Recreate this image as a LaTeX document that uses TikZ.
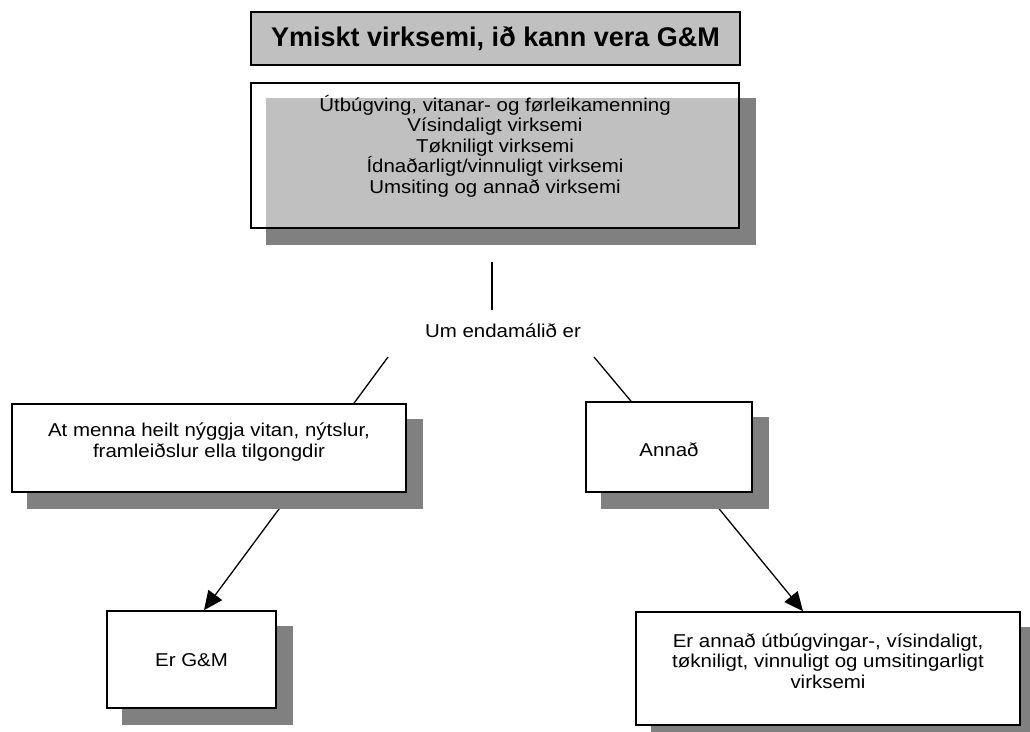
\documentclass[tikz,border=0pt]{standalone}
\usepackage{fontspec}
\setmainfont[FakeStretch=1.1]{Liberation Sans}
\newfontfamily\titlefont{Liberation Sans}
\usetikzlibrary{arrows.meta}
\definecolor{lightgr}{HTML}{C0C0C0}
\definecolor{shadowgr}{HTML}{808080}
\pgfdeclarelayer{bg}
\pgfsetlayers{bg,main}
\begin{document}
\begin{tikzpicture}[x=1pt,y=-1pt,
  box/.style={draw=black, line width=1.6pt, fill=white, inner sep=0pt},
  shade/.style={fill=shadowgr, draw=none},
  conn/.style={line width=1.3pt},
  arr/.style={conn, -{Triangle[length=19pt,width=17pt]}},
  txt/.style={font=\fontsize{18.6}{20.5}\selectfont, align=center, inner sep=0pt},
]
\useasboundingbox (0,0) rectangle (1030,731);

% title
\node[box, fill=lightgr, minimum width=489pt, minimum height=53pt,
      font=\titlefont\fontsize{27}{30}\selectfont\bfseries] (title) at (495.5,38.5)
      {Ymiskt virksemi, ið kann vera G\&M};

% main box (transparent, shadow shows through)
\node[box, fill=none, minimum width=488pt, minimum height=145pt] (main) at (495,155.5) {};
\node[txt] (maintext) at (495,146) {Útbúgving, vitanar- og førleikamenning\\Vísindaligt virksemi\\Tøkniligt virksemi\\Ídnaðarligt/vinnuligt virksemi\\Umsiting og annað virksemi};

% question
\coordinate (vtop) at (492,262);
\coordinate (vbot) at (492,310);
\node[txt] (um) at (503,331) {Um endamálið er};
\coordinate (ltop) at (388,357);
\coordinate (rtop) at (594,357);

% answer boxes
\node[box, minimum width=394pt, minimum height=88pt] (lbox) at (209,448) {};
\node[txt] (ltext) at (209,442) {At menna heilt nýggja vitan, nýtslur,\\framleiðslur ella tilgongdir};
\node[box, minimum width=166pt, minimum height=90pt] (annad) at (669,447) {};
\node[txt] (atext) at (669,450) {Annað};

% result boxes
\node[box, minimum width=169pt, minimum height=97pt] (erg) at (191.5,659.5) {};
\node[txt] (etext) at (191.5,660) {Er G\&M};
\node[box, minimum width=384pt, minimum height=113pt] (rbox) at (828,668.5) {};
\node[txt] (rtext) at (828,661) {Er annað útbúgvingar-, vísindaligt,\\tøkniligt, vinnuligt og umsitingarligt\\virksemi};

\begin{pgfonlayer}{bg}
  % connectors (under shadows)
  \draw[conn] (vtop) -- (vbot);
  \draw[conn] (ltop) -- ([xshift=145pt]lbox.north);
  \draw[conn] (rtop) -- ([xshift=-38pt]annad.north);
  \draw[arr] ([xshift=82pt]lbox.south) -- ([xshift=12.5pt]erg.north);
  \draw[arr] ([xshift=37pt]annad.south) -- ([xshift=-25pt]rbox.north);
  % shadows
  \foreach \n in {lbox,annad,erg,rbox,main}
    \fill[shade] ([shift={(16pt,-16pt)}]\n.north west) rectangle ([shift={(16pt,-16pt)}]\n.south east);
  \fill[white] (main.north west) rectangle (main.south east);
  \fill[lightgr] ([shift={(16pt,-16pt)}]main.north west) rectangle (main.south east);
\end{pgfonlayer}
\end{tikzpicture}
\end{document}
